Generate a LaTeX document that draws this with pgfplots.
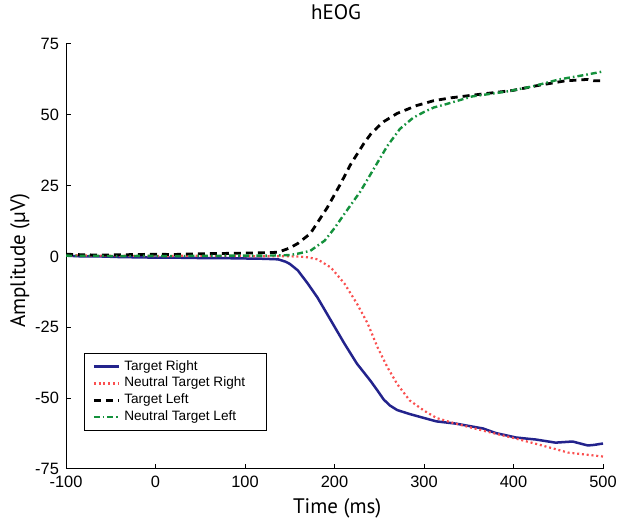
\documentclass[border=0pt]{standalone}
\usepackage{fontspec}
\setmainfont{Liberation Sans}
\newfontfamily\labelfont{PT Sans}
\usepackage{pgfplots}
\pgfplotsset{compat=1.18}

\definecolor{tright}{RGB}{35,35,140}
\definecolor{ntright}{RGB}{250,80,80}
\definecolor{ntleft}{RGB}{20,145,60}
\newcommand\entry[1]{\makebox[65pt][l]{#1}}

\begin{document}
\begin{tikzpicture}
\begin{axis}[
	name=ax,
	scale only axis,
	width=268.5pt,
	height=212.5pt,
	xmin=-100, xmax=500,
	ymin=-75, ymax=75,
	xtick={-100,0,...,500},
	ytick={-75,-50,...,75},
	axis lines=left,
	axis line style={-, line width=0.5pt},
	tick align=inside,
	major tick length=2.5pt,
	tick style={black, line width=0.5pt},
	ticklabel style={font=\fontsize{8.2}{10}\selectfont},
	/pgf/number format/assume math mode=true,
	xlabel={Time (ms)},
	ylabel={Amplitude (µV)},
	title={hEOG},
	xlabel style={font=\labelfont\fontsize{10.5}{12}\selectfont, at={(axis description cs:0.505,-0.092)}, anchor=center},
	ylabel style={font=\labelfont\fontsize{10.5}{12}\selectfont, at={(axis description cs:-0.0857,0.49)}, anchor=center},
	title style={font=\labelfont\fontsize{10.5}{12}\selectfont, at={(axis description cs:0.503,1.047)}, anchor=center},
	legend style={at={(axis description cs:0.0335,0.089)}, anchor=south west,
		draw=black, line width=0.5pt, font=\fontsize{6.8}{7.8}\selectfont,
		row sep=-2pt, inner xsep=4pt, inner ysep=1.5pt},
	legend cell align=left,
	legend image code/.code={\draw[#1] (0pt,0pt) -- (12.5pt,0pt);},
	]
% Target Right
\addplot[tright, line width=1.25pt] coordinates {
	(-100,0.3) (-80,0) (-60,0) (-40,-0.2) (-20,-0.3) (0,-0.4) (20,-0.4) (40,-0.5)
	(60,-0.6) (80,-0.6) (100,-0.7) (120,-0.8) (137,-1.0) (145,-1.8) (150,-2.6)
	(159,-4.9) (170,-9.5) (181,-14.5) (196,-22.6) (211,-30.7) (225,-37.8) (240,-43.8)
	(248,-47.3) (255,-50.5) (262,-52.6) (270,-54.2) (284,-55.6) (300,-57) (314,-58.2)
	(336,-59) (350,-59.8) (366,-60.7) (380,-62.3) (403,-63.9) (425,-64.6) (447,-65.7)
	(466,-65.3) (483,-66.7) (490,-66.5) (500,-66)
};
% Neutral Target Right
\addplot[ntright, line width=1.1pt, dash pattern=on 1pt off 1.4pt] coordinates {
	(-100,0.5) (-80,0.4) (-60,0.3) (-40,0.3) (-20,0.2) (0,0.2) (20,0.2) (40,0.3)
	(60,0.2) (80,0.2) (100,0.1) (120,0.1) (140,0.1) (160,0) (170,-0.3) (181,-1)
	(196,-3.9) (211,-9.5) (225,-16.6) (237,-23.6) (248,-32) (259,-39) (270,-45)
	(284,-50.8) (300,-54.4) (314,-57) (330,-58.5) (344,-59.7) (373,-62) (403,-64.3)
	(432,-66.7) (461,-69.2) (483,-70) (500,-70.6)
};
% Target Left
\addplot[black, line width=1.4pt, dash pattern=on 3.5pt off 2.5pt] coordinates {
	(-100,0.8) (-80,0.6) (-60,0.5) (-40,0.6) (-20,0.7) (0,0.8) (20,0.7) (40,0.9)
	(60,1) (80,1.1) (100,1.2) (120,1.3) (137,1.5) (150,3) (159,4.6) (173,8.1)
	(192,17.3) (207,25.8) (218,32.5) (227,37) (233,40) (240,43) (248,45.6) (255,47.6)
	(270,50.5) (292,53.3) (311,55) (330,56) (369,57.5) (399,58.6) (428,60.4)
	(458,62) (483,62.5) (490,62) (500,62)
};
% Neutral Target Left
\addplot[ntleft, line width=1.2pt, dash pattern=on 3pt off 1.5pt on 0.8pt off 1.5pt] coordinates {
	(-100,0.3) (-80,0.2) (-60,0.2) (-40,0.1) (-20,0.2) (0,0.2) (20,0.1) (40,0.2)
	(60,0.2) (80,0.3) (100,0.3) (120,0.3) (140,0.4) (150,0.5) (159,1) (173,2)
	(189,5.6) (200,10) (211,15) (229,23) (244,31) (259,39) (273,45) (288,49)
	(300,51) (311,52.6) (324,53.7) (354,56.5) (392,58.2) (421,60) (451,62.5)
	(482,64.2) (500,65.3)
};
\legend{\entry{Target Right}, \entry{Neutral Target Right}, \entry{Target Left}, \entry{Neutral Target Left}}
\end{axis}
\path (ax.south west) ++(-33pt,-26pt) coordinate (bl);
\path (ax.north east) ++(7pt,22pt) coordinate (tr);
\pgfresetboundingbox
\path (bl) rectangle (tr);
\end{tikzpicture}
\end{document}
